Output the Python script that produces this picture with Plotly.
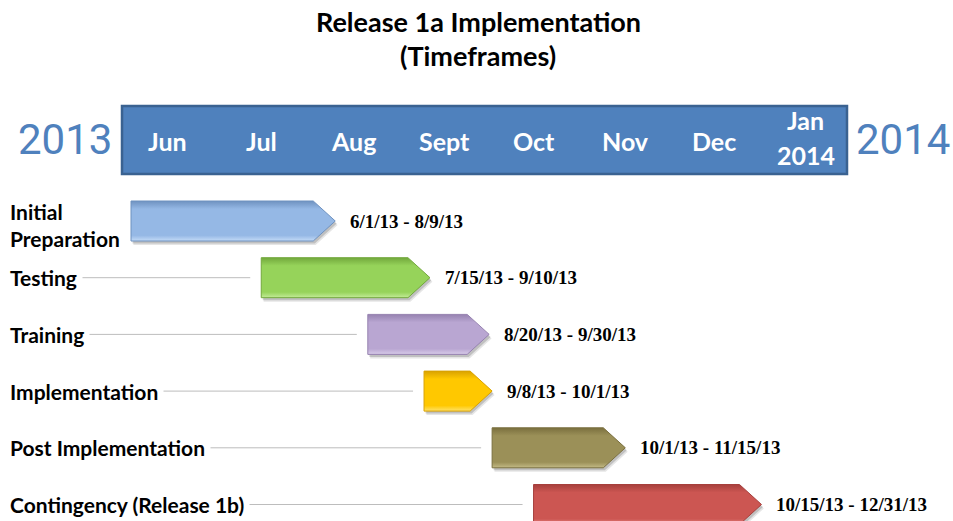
import datetime as dt
import plotly.graph_objects as go

# ---------------- data ----------------
tasks = ["Initial<br>Preparation", "Testing", "Training", "Implementation",
         "Post Implementation", "Contingency (Release 1b)"]
starts = ["2013-06-01", "2013-07-15", "2013-08-20", "2013-09-08", "2013-10-01", "2013-10-15"]
ends = ["2013-08-09", "2013-09-10", "2013-09-30", "2013-10-01", "2013-11-15", "2013-12-31"]
range_labels = ["6/1/13 - 8/9/13", "7/15/13 - 9/10/13", "8/20/13 - 9/30/13",
                "9/8/13 - 10/1/13", "10/1/13 - 11/15/13", "10/15/13 - 12/31/13"]
month_labels = ["Jun", "Jul", "Aug", "Sept", "Oct", "Nov", "Dec", "Jan\n2014"]
month_dates = ["2013-06-15", "2013-07-15", "2013-08-15", "2013-09-15", "2013-10-15",
               "2013-11-15", "2013-12-15", "2014-01-15"]
title_lines = ["Release 1a Implementation", "(Timeframes)"]
year_start, year_end = "2013", "2014"

# ---------------- style ----------------
fills = ["#95b8e5", "#96d35a", "#b9a6d2", "#ffc800", "#9b9058", "#cc5652"]
lights = ["#c4dbf7", "#c3ec98", "#d8cbe9", "#ffe36a", "#c4bb86", "#e88f8b"]
darks = ["#6f92c0", "#72a83c", "#9682b0", "#d9a200", "#7a6f3e", "#a63f3c"]
BLUE = "#4f81bd"

W, H = 953, 521
PX_PER_DAY = 2.96
ORIGIN = dt.datetime(2013, 6, 1)
ORIGIN_PX = 131
ROW0_PX, ROW_PX = 221, 56.7
HALF_H = 20 / ROW_PX
TIP_PX = 22


def days(px):
    return dt.timedelta(days=px / PX_PER_DAY)


def D(s):
    return dt.datetime.strptime(s, "%Y-%m-%d")


x_lo = ORIGIN - days(ORIGIN_PX)
x_hi = x_lo + days(W)
y_top = -ROW0_PX / ROW_PX
y_bot = (H - ROW0_PX) / ROW_PX


def py(px):  # paper y from pixel
    return 1 - px / H


def pxx(px):  # paper x from pixel
    return px / W


fig = go.Figure()
shapes = []
annotations = []

# header box
shapes.append(dict(type="rect", xref="paper", yref="paper",
                   x0=pxx(122), x1=pxx(847), y0=py(174), y1=py(106),
                   fillcolor=BLUE, line=dict(color="#3a6291", width=2.5), layer="below"))

# connector lines
for i, s in enumerate(starts):
    if i == 0:
        continue
    shapes.append(dict(type="line", xref="x", yref="y",
                       x0=x_lo + days(12), x1=D(s) - days(11), y0=i, y1=i,
                       line=dict(color="#bdbdbd", width=1), layer="below"))

# bars
for i, (s, e) in enumerate(zip(starts, ends)):
    s_d, e_d = D(s), D(e)
    tip = e_d - days(TIP_PX)
    xs = [s_d, tip, e_d, tip, s_d, s_d]
    ys = [i - HALF_H, i - HALF_H, i, i + HALF_H, i + HALF_H, i - HALF_H]
    # shadow
    for off, op in [(4, 0.10), (2.5, 0.16)]:
        fig.add_trace(go.Scatter(
            x=[x + days(off * 0.6) for x in xs], y=[y + off / ROW_PX for y in ys],
            mode="lines", fill="toself", fillcolor=f"rgba(0,0,0,{op})",
            line=dict(width=0), hoverinfo="skip", showlegend=False))
    fig.add_trace(go.Scatter(
        x=xs, y=ys, mode="lines", fill="toself",
        fillgradient=dict(type="vertical",
                          colorscale=[[0, lights[i]], [0.14, fills[i]], [0.8, fills[i]], [1, darks[i]]]),
        line=dict(color=darks[i], width=1), hoverinfo="skip", showlegend=False, name=tasks[i]))
    annotations.append(dict(x=e_d, y=i, xref="x", yref="y", text=f"<b>{range_labels[i]}</b>",
                            showarrow=False, xanchor="left", xshift=13,
                            font=dict(family="Liberation Serif", size=19, color="black")))
    annotations.append(dict(x=pxx(4), y=i, xref="paper", yref="y", text=f"<b>{tasks[i]}</b>",
                            showarrow=False, xanchor="left", align="left", bgcolor="white",
                            borderpad=5, yshift=-4 if i == 0 else 0,
                            font=dict(family="Lato", size=21, color="black")))

# month labels in header
for m, d in zip(month_labels, month_dates):
    parts = m.split("\n")
    n = len(parts)
    for k, p in enumerate(parts):
        yc = (141 if n == 1 else 137) + (k - (n - 1) / 2) * 35
        annotations.append(dict(x=D(d), y=py(yc), xref="x", yref="paper", text=f"<b>{p}</b>",
                                showarrow=False, xanchor="center", yanchor="middle",
                                xshift=-5 if d.endswith("06-15") else 0,
                                font=dict(family="Lato", size=25, color="white")))

# year labels
for txt, xc in [(year_start, 65), (year_end, 903)]:
    annotations.append(dict(x=pxx(xc), y=py(139), xref="paper", yref="paper", text=txt,
                            showarrow=False, xanchor="center", yanchor="middle",
                            font=dict(family="Roboto", size=42, color=BLUE)))

# title
for k, t in enumerate(title_lines):
    annotations.append(dict(x=pxx(478), y=py(21 + 35 * k), xref="paper", yref="paper",
                            text=f"<b>{t}</b>", showarrow=False, xanchor="center", yanchor="middle",
                            font=dict(family="Lato", size=27, color="black")))

fig.update_layout(
    width=W, height=H, margin=dict(l=0, r=0, t=0, b=0),
    paper_bgcolor="white", plot_bgcolor="white",
    xaxis=dict(type="date", range=[x_lo, x_hi], visible=False, fixedrange=True),
    yaxis=dict(range=[y_bot, y_top], visible=False, fixedrange=True),
    shapes=shapes, annotations=annotations, showlegend=False,
)

fig.write_html("out.html", post_script="document.body.style.margin='0';",
               config={"displayModeBar": False})
